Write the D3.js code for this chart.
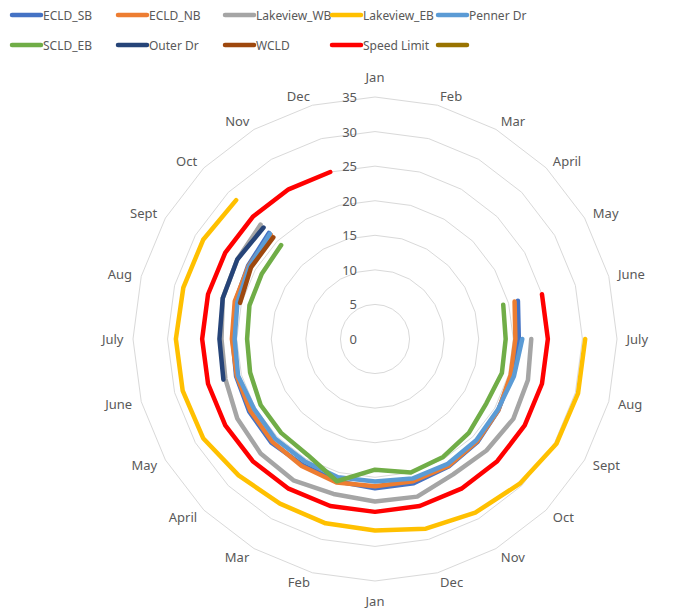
<!DOCTYPE html>
<html>
<head>
<meta charset="utf-8">
<script src="https://cdn.jsdelivr.net/npm/d3@7"></script>
<style>
  body { margin: 0; background: #fff; }
  text { font-family: "Noto Sans", sans-serif; fill: #595959; }
</style>
</head>
<body>
<div id="viz"></div>
<script>
// month axis labels, two years round the circle
const months = ["Jan", "Feb", "Mar", "April", "May", "June", "July", "Aug", "Sept", "Oct", "Nov", "Dec",
                "Jan", "Feb", "Mar", "April", "May", "June", "July", "Aug", "Sept", "Oct", "Nov", "Dec"]
const ticks = [0, 5, 10, 15, 20, 25, 30, 35]

const _ = null
const ecldSB     = [_, _, _, _, _, 21.4, 20.8, 20.4, 20.6, 21.0, 21.3, 21.6, 21.6, 21.3, 21.0, 21.2, 21.0, 20.8, 20.6, 20.9, 21.2, 21.7, _, _]
const ecldNB     = [_, _, _, _, _, 20.9, 20.3, 20.3, 20.6, 20.9, 21.2, 21.3, 21.3, 21.5, 21.2, 21.0, 20.8, 20.7, 20.7, 21.0, 21.1, 21.3, _, _]
const lakeviewWB = [_, _, _, _, _, _, 22.6, 22.9, 23.1, 22.8, 22.6, 23.6, 23.5, 23.2, 23.6, 23.4, 23.0, 22.4, 22.2, 22.8, 23.0, 23.4, _, _]
const lakeviewEB = [_, _, _, _, _, _, 30.4, 30.4, 30.3, 29.6, 29.0, 28.4, 27.7, 27.6, 27.5, 27.9, 28.7, 28.8, 28.8, 28.7, 28.7, 28.4, _, _]
const pennerDr   = [_, _, _, _, _, _, 21.3, 20.8, 20.5, 20.7, 20.9, 20.9, 20.6, 20.7, 20.4, 20.4, 20.2, 20.5, 20.3, 20.6, 21.0, 21.5, _, _]
const scldEB     = [_, _, _, _, _, 19.2, 18.9, 19.0, 18.6, 19.2, 19.7, 20.0, 18.9, 21.3, 19.4, 19.2, 19.1, 18.7, 18.5, 18.8, 18.9, 19.2, _, _]
const outerDr    = [_, _, _, _, _, _, _, _, _, _, _, _, _, _, _, _, _, 22.7, 22.5, 22.8, 23.0, 22.8, _, _]
const wcld       = [_, _, _, _, _, _, _, _, _, _, _, _, _, _, _, _, _, _, _, 20.2, 20.7, 20.8, _, _]
const speedLimit = [_, _, _, _, _, 25, 25, 25, 25, 25, 25, 25, 25, 25, 25, 25, 25, 25, 25, 25, 25, 25, 25, 25]
const blank      = months.map(() => null)

const seriesNames = ["ECLD_SB", "ECLD_NB", "Lakeview_WB", "Lakeview_EB", "Penner Dr", "SCLD_EB", "Outer Dr", "WCLD", "Speed Limit", ""]
const seriesValues = [ecldSB, ecldNB, lakeviewWB, lakeviewEB, pennerDr, scldEB, outerDr, wcld, speedLimit, blank]
const colors = ["#4472C4", "#ED7D31", "#A5A5A5", "#FFC000", "#5B9BD5", "#70AD47", "#264478", "#9E480E", "#FF0000", "#997300"]

const width = 687
const height = 610
const cx = 375
const cy = 339
const R = 242

const svg = d3.select("#viz").append("svg")
    .attr("width", width)
    .attr("height", height)

const r = d3.scaleLinear().domain([0, 35]).range([0, R])
const angle = d3.scalePoint().domain(d3.range(months.length)).range([0, 2 * Math.PI * (months.length - 1) / months.length])

const plot = svg.append("g").attr("transform", `translate(${cx},${cy})`)

// grid rings (no spokes)
const ring = d3.lineRadial().angle((d, i) => angle(i)).radius(d => r(d)).curve(d3.curveLinearClosed)
plot.selectAll(".ring")
    .data(ticks.slice(1))
    .join("path")
    .attr("d", t => ring(months.map(() => t)))
    .attr("fill", "none")
    .attr("stroke", "#d9d9d9")
    .attr("stroke-width", 1)

// radial tick labels
plot.selectAll(".tick")
    .data(ticks)
    .join("text")
    .attr("x", -18)
    .attr("y", t => -r(t))
    .attr("text-anchor", "end")
    .attr("dominant-baseline", "central")
    .style("font-size", "13px")
    .text(t => t)

// month labels round the outside
plot.selectAll(".month")
    .data(months)
    .join("text")
    .attr("x", (m, i) => Math.sin(angle(i)) * (R + 9.5))
    .attr("y", (m, i) => {
        const c = Math.cos(angle(i))
        const s = Math.abs(Math.sin(angle(i)))
        return -c * (R + 9.5) - Math.sign(c) * (s < 0.01 ? 10.5 : 0)
    })
    .attr("text-anchor", (m, i) => {
        const s = Math.sin(angle(i))
        return s > 0.01 ? "start" : s < -0.01 ? "end" : "middle"
    })
    .attr("dominant-baseline", "central")
    .style("font-size", "13px")
    .text(m => m)

// series lines
const line = d3.lineRadial()
    .defined(d => d != null)
    .angle((d, i) => angle(i))
    .radius(d => r(d))

plot.selectAll(".series")
    .data(seriesValues)
    .join("path")
    .attr("d", v => line(v))
    .attr("fill", "none")
    .attr("stroke", (v, i) => colors[i])
    .attr("stroke-width", 4.5)
    .attr("stroke-linejoin", "round")
    .attr("stroke-linecap", "round")

// legend, two rows of five
const legend = svg.append("g")
const item = legend.selectAll("g")
    .data(seriesNames)
    .join("g")
    .attr("transform", (n, i) => `translate(${[12, 118, 225, 332, 438][i % 5]},${i < 5 ? 15 : 45})`)

item.append("line")
    .attr("x1", 0).attr("x2", 29)
    .attr("stroke", (n, i) => colors[i])
    .attr("stroke-width", 4.5)
    .attr("stroke-linecap", "round")

item.append("text")
    .attr("x", 31)
    .attr("dominant-baseline", "central")
    .style("font-size", "12px")
    .text(n => n)
</script>
</body>
</html>
